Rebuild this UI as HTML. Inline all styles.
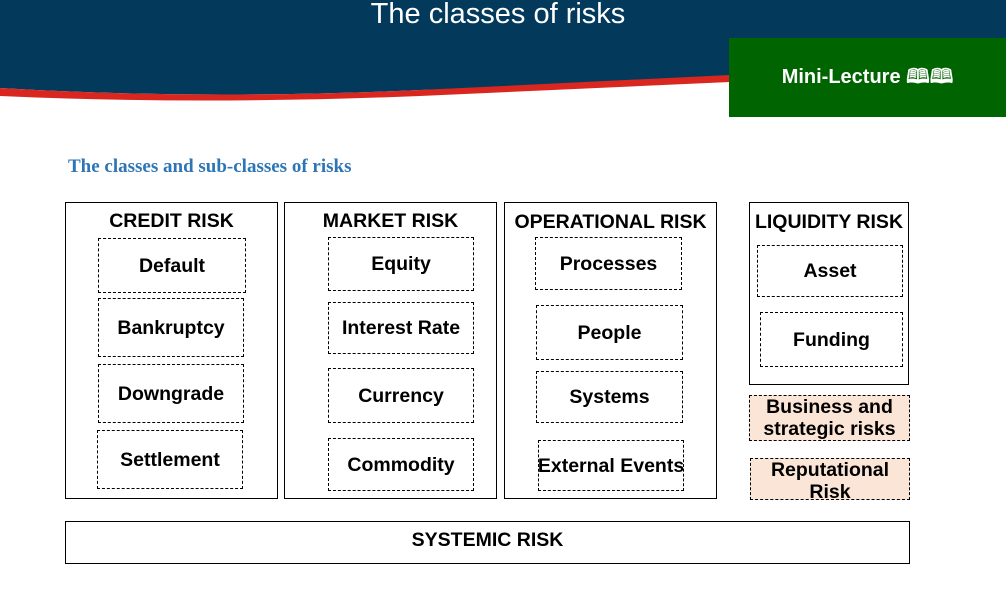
<!DOCTYPE html>
<html><head><style>
body{margin:0;width:1006px;height:594px;position:relative;overflow:hidden;background:#fff;font-family:"Liberation Sans",sans-serif}
.b{position:absolute;border:1px solid #000;box-sizing:border-box}
.d{position:absolute;border:1px dashed #000;box-sizing:border-box;display:flex;align-items:center;justify-content:center;font-weight:bold;font-size:19.5px;text-align:center;line-height:22px;white-space:nowrap}
.t{position:absolute;font-weight:bold;font-size:19.5px;text-align:center;width:100%;left:0;white-space:nowrap}
</style></head><body>
<svg width="1006" height="130" style="position:absolute;left:0;top:0">
<path d="M0 0H1006V80H730L420 90Q200 100 0 88Z" fill="#033a5c"/>
<path d="M0 88Q200 100 420 90L730 75V82L420 96Q200 105 0 96Z" fill="#d9271f"/>
</svg>
<div style="position:absolute;left:0;width:996px;top:-2px;text-align:center;color:#fff;font-size:29px">The classes of risks</div>
<div style="position:absolute;left:729px;top:41px;width:277px;height:76px;background:#006400;color:#fff;font-weight:bold;font-size:20px;display:flex;align-items:center;justify-content:center">Mini-Lecture 🕮🕮</div>
<div style="position:absolute;left:0;top:38px;width:0;height:0"></div>
<div style="position:absolute;left:729px;top:38px;width:277px;height:4px;background:#006400"></div>
<div style="position:absolute;left:68px;top:156px;color:#2e75b6;font-family:'Liberation Serif',serif;font-weight:bold;font-size:19px">The classes and sub-classes of risks</div>

<div class="b" style="left:65px;top:202px;width:213px;height:297px"><div class="t" style="top:7px">CREDIT RISK</div></div>
<div class="d" style="left:98px;top:238px;width:148px;height:55px">Default</div>
<div class="d" style="left:98px;top:298px;width:146px;height:59px">Bankruptcy</div>
<div class="d" style="left:98px;top:364px;width:146px;height:59px">Downgrade</div>
<div class="d" style="left:97px;top:430px;width:146px;height:59px">Settlement</div>

<div class="b" style="left:284px;top:202px;width:213px;height:297px"><div class="t" style="top:7px">MARKET RISK</div></div>
<div class="d" style="left:328px;top:237px;width:146px;height:54px">Equity</div>
<div class="d" style="left:328px;top:302px;width:146px;height:52px">Interest Rate</div>
<div class="d" style="left:328px;top:368px;width:146px;height:55px">Currency</div>
<div class="d" style="left:328px;top:438px;width:146px;height:53px">Commodity</div>

<div class="b" style="left:504px;top:202px;width:213px;height:297px"><div class="t" style="top:8px">OPERATIONAL RISK</div></div>
<div class="d" style="left:535px;top:237px;width:147px;height:53px">Processes</div>
<div class="d" style="left:536px;top:305px;width:147px;height:55px">People</div>
<div class="d" style="left:536px;top:371px;width:147px;height:52px">Systems</div>
<div class="d" style="left:538px;top:440px;width:146px;height:51px">External Events</div>

<div class="b" style="left:749px;top:202px;width:160px;height:183px"><div class="t" style="top:8px">LIQUIDITY RISK</div></div>
<div class="d" style="left:757px;top:245px;width:146px;height:52px">Asset</div>
<div class="d" style="left:760px;top:312px;width:143px;height:55px">Funding</div>

<div class="d" style="left:749px;top:395px;width:161px;height:46px;background:#fbe5d6">Business and<br>strategic risks</div>
<div class="d" style="left:750px;top:458px;width:160px;height:42px;background:#fbe5d6;align-items:flex-start;padding-top:0">Reputational<br>Risk</div>

<div class="b" style="left:65px;top:521px;width:845px;height:43px;display:flex;align-items:center;justify-content:center;font-weight:bold;font-size:19.5px;padding-bottom:4px">SYSTEMIC RISK</div>
</body></html>
